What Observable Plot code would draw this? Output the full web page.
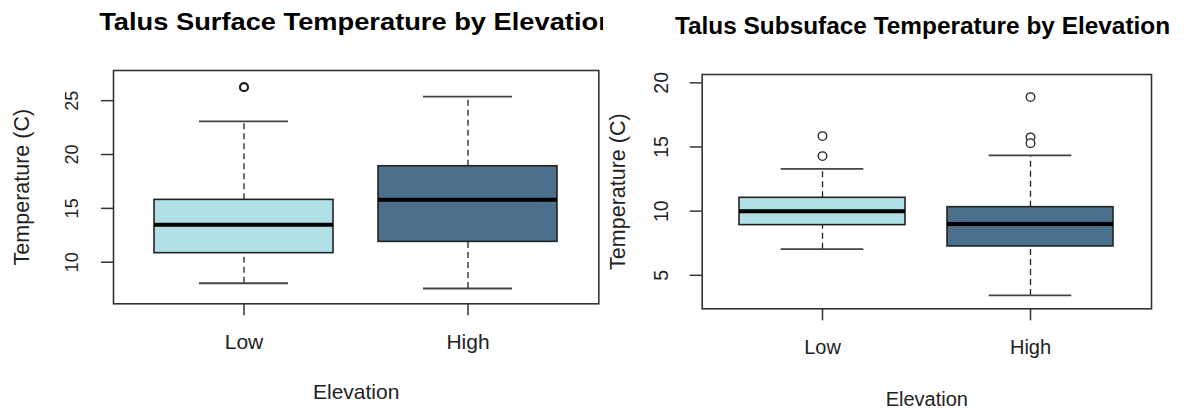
<!DOCTYPE html>
<html>
<head>
<meta charset="utf-8">
<script src="https://cdn.jsdelivr.net/npm/d3@7"></script>
<script src="https://cdn.jsdelivr.net/npm/@observablehq/plot@0.6"></script>
<style>
  html, body { margin: 0; padding: 0; background: white; }
  #root { position: relative; width: 1189px; height: 408px; overflow: hidden; background: white; }
  .panel { position: absolute; top: 0; height: 408px; overflow: hidden; }
  .title { position: absolute; white-space: nowrap; font-family: "Liberation Sans", Arial, sans-serif; font-weight: bold; color: #000; transform-origin: center top; }
  .panel svg { position: absolute; left: 0; top: 0; }
</style>
</head>
<body>
<div id="root"></div>
<script>
// ---------- data ----------
const categories = ["Low", "High"];
const boxFills = ["#B0E0E6", "#4A708B"];

// Surface panel
const surfaceTitle = "Talus Surface Temperature by Elevation";
const surfaceQ1 = [10.84, 11.89];
const surfaceMedian = [13.47, 15.79];
const surfaceQ3 = [15.79, 18.91];
const surfaceWhiskerLow = [8.05, 7.56];
const surfaceWhiskerHigh = [23.07, 25.38];
const surfaceOutlierCategory = ["Low"];
const surfaceOutlierValue = [26.25];
const surfaceYTicks = [10, 15, 20, 25];
const surfaceYDomain = [6.14, 27.8];

// Subsurface panel
const subTitle = "Talus Subsuface Temperature by Elevation";
const subQ1 = [8.91, 7.25];
const subMedian = [10.0, 8.99];
const subQ3 = [11.04, 10.31];
const subWhiskerLow = [7.04, 3.43];
const subWhiskerHigh = [13.30, 14.34];
const subOutlierCategory = ["Low", "Low", "High", "High", "High"];
const subOutlierValue = [15.85, 14.29, 18.89, 15.75, 15.30];
const subYTicks = [5, 10, 15, 20];
const subYDomain = [2.39, 20.65];

const xLabel = "Elevation";
const yLabel = "Temperature (C)";

// ---------- build ----------
function rowsFrom(q1, med, q3, lo, hi) {
  return categories.map((c, i) => ({cat: c, q1: q1[i], med: med[i], q3: q3[i], lo: lo[i], hi: hi[i], fill: boxFills[i]}));
}
function outliersFrom(cats, vals) {
  return cats.map((c, i) => ({cat: c, v: vals[i]}));
}

function makePlot(o) {
  const font = "Liberation Sans, Arial, sans-serif";
  return Plot.plot({
    width: o.width, height: o.height,
    marginLeft: o.ml, marginRight: o.mr, marginTop: o.mt, marginBottom: o.mb,
    style: {fontFamily: font, background: "white", color: "#222"},
    x: {type: "band", domain: categories, paddingInner: 0.2, paddingOuter: 0.18, label: null},
    y: {domain: o.domain, label: null},
    marks: [
      Plot.ruleX(o.rows, {x: "cat", y1: "q3", y2: "hi", stroke: "#222", strokeWidth: 1.3, strokeDasharray: "6,4"}),
      Plot.ruleX(o.rows, {x: "cat", y1: "lo", y2: "q1", stroke: "#222", strokeWidth: 1.3, strokeDasharray: "6,4"}),
      Plot.tickY(o.rows, {x: "cat", y: "hi", insetLeft: o.capInset, insetRight: o.capInset, stroke: "#444", strokeWidth: 1.8}),
      Plot.tickY(o.rows, {x: "cat", y: "lo", insetLeft: o.capInset, insetRight: o.capInset, stroke: "#444", strokeWidth: 1.8}),
      Plot.barY(o.rows, {x: "cat", y1: "q1", y2: "q3", fill: "fill", stroke: "#222", strokeWidth: 1.6}),
      Plot.tickY(o.rows, {x: "cat", y: "med", stroke: "#000", strokeWidth: 4}),
      Plot.dot(o.outliers, {x: "cat", y: "v", r: o.dotR, fill: "white", stroke: "#222", strokeWidth: o.dotW}),
      Plot.frame({stroke: "#333", strokeWidth: 1.6}),
      Plot.axisX({tickSize: 12, tickFormat: () => "", label: null, stroke: "#333", strokeWidth: 1.5}),
      Plot.axisY({ticks: o.ticks, tickSize: 12, tickFormat: () => "", label: null, stroke: "#333", strokeWidth: 1.5}),
      Plot.text(categories, {x: d => d, frameAnchor: "bottom", dy: o.xTickDy, text: d => d, fontSize: o.xTickSize, fill: "#222", textAnchor: "middle", lineAnchor: "middle"}),
      Plot.text(o.ticks, {y: d => d, frameAnchor: "left", dx: o.yTickDx, rotate: -90, text: d => String(d), fontSize: o.yTickSize, fill: "#222", textAnchor: "middle", lineAnchor: "middle"}),
      Plot.text([xLabel], {frameAnchor: "bottom", dy: o.xTitleDy, text: d => d, fontSize: o.xTitleSize, fill: "#222", textAnchor: "middle", lineAnchor: "middle"}),
      Plot.text([yLabel], {frameAnchor: "left", dx: o.yTitleDx, rotate: -90, text: d => d, fontSize: o.yTitleSize, fill: "#222", textAnchor: "middle", lineAnchor: "middle"})
    ]
  });
}

const root = document.getElementById("root");

function addPanel(left, width, title, titleOpts, plotOpts) {
  const panel = document.createElement("div");
  panel.className = "panel";
  panel.style.left = left + "px";
  panel.style.width = width + "px";
  const svg = makePlot(Object.assign({width, height: 408}, plotOpts));
  panel.appendChild(svg);
  const t = document.createElement("div");
  t.className = "title";
  t.textContent = title;
  t.style.fontSize = titleOpts.size + "px";
  t.style.lineHeight = titleOpts.size + "px";
  t.style.top = titleOpts.top + "px";
  t.style.left = titleOpts.center + "px";
  t.style.transform = `translateX(-50%) scaleX(${titleOpts.scaleX})`;
  panel.appendChild(t);
  root.appendChild(panel);
}

addPanel(0, 603, surfaceTitle, {size: 23.5, top: 11, center: 357, scaleX: 1.16}, {
  ml: 113, mr: 4.7, mt: 70, mb: 104.7,
  domain: surfaceYDomain, ticks: surfaceYTicks,
  rows: rowsFrom(surfaceQ1, surfaceMedian, surfaceQ3, surfaceWhiskerLow, surfaceWhiskerHigh),
  outliers: outliersFrom(surfaceOutlierCategory, surfaceOutlierValue),
  capInset: 45, dotR: 4, dotW: 2.2,
  xTickDy: 38, xTickSize: 21, yTickDx: -41, yTickSize: 18,
  xTitleDy: 88, xTitleSize: 21, yTitleDx: -91, yTitleSize: 21.5
});

addPanel(603, 586, subTitle, {size: 24.4, top: 14, center: 319.5, scaleX: 1}, {
  ml: 98.7, mr: 38, mt: 74, mb: 99.7,
  domain: subYDomain, ticks: subYTicks,
  rows: rowsFrom(subQ1, subMedian, subQ3, subWhiskerLow, subWhiskerHigh),
  outliers: outliersFrom(subOutlierCategory, subOutlierValue),
  capInset: 41.7, dotR: 4.3, dotW: 1.3,
  xTickDy: 39, xTickSize: 20, yTickDx: -40, yTickSize: 19.5,
  xTitleDy: 91, xTitleSize: 20, yTitleDx: -84, yTitleSize: 21.5
});
</script>
</body>
</html>
